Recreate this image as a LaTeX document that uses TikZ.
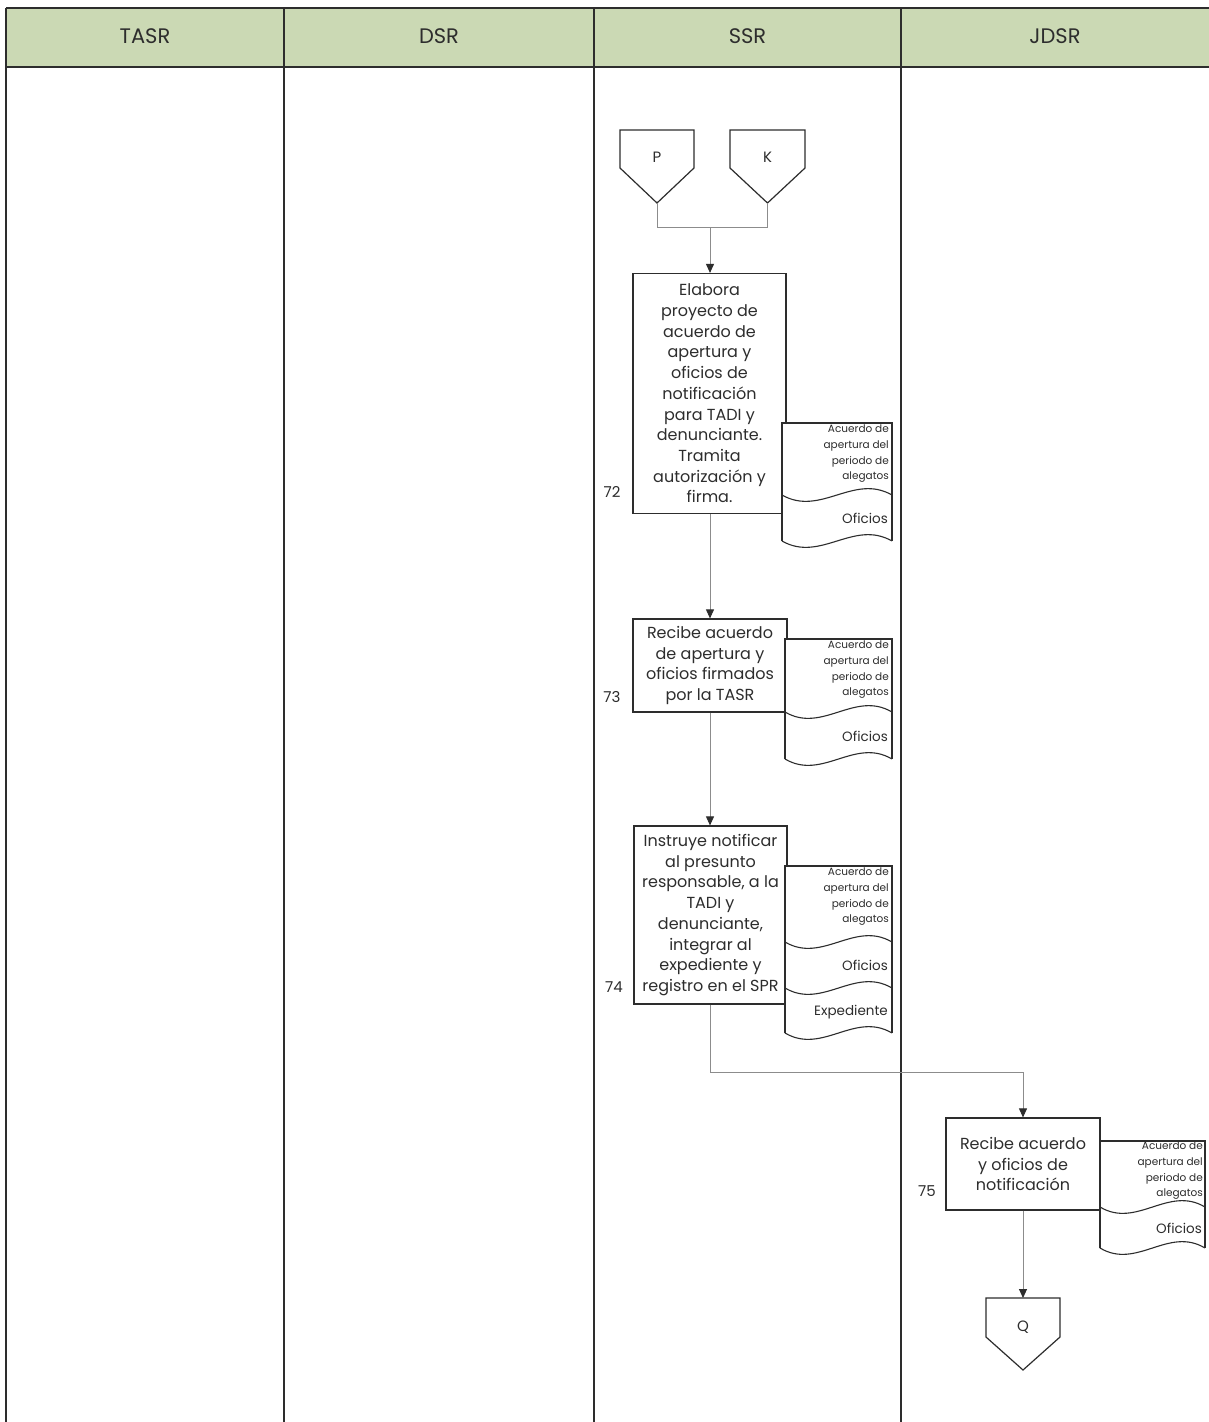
\documentclass[tikz,border=0pt]{standalone}
\usepackage{fontspec}
\setmainfont{Poppins}
\usetikzlibrary{arrows.meta}
\definecolor{hdr}{RGB}{203,217,180}
\definecolor{ink}{RGB}{45,45,45}
\definecolor{conn}{RGB}{140,140,140}
\tikzset{
  box/.style={draw=ink, line width=1.2pt, fill=white, align=center, inner sep=0pt,
    font=\fontsize{16}{20.7}\selectfont, text=ink},
  doctext/.style={font=\fontsize{10.5}{15.6}\selectfont, align=right, inner sep=0pt, text=ink},
  doclabel/.style={font=\fontsize{13.5}{15}\selectfont, inner sep=0pt, text=ink},
  num/.style={font=\fontsize{15}{18}\selectfont, text=ink},
  hdrtext/.style={font=\fontsize{21}{24}\selectfont, text=ink},
  lane/.style={draw=ink, line width=1.3pt},
  docline/.style={draw=ink, line width=1.1pt},
  conshape/.style={draw=ink, line width=1.2pt, fill=white, line join=miter},
  flowline/.style={draw=conn, line width=0.9pt},
  flow/.style={draw=conn, line width=0.9pt, -{Triangle[length=9pt,width=8pt,color=ink]}},
}
\newcommand\wave[3]{(#1,#3) .. controls ({#1+0.35*(#2-#1)},{#3+22}) and ({#1+0.65*(#2-#1)},{#3-22}) .. (#2,#3)}
\begin{document}
\begin{tikzpicture}[x=1pt,y=-1pt]
\useasboundingbox (0,0) rectangle (1209,1422);
\fill[white] (0,0) rectangle (1209,1422);
% header
\fill[hdr] (6,8) rectangle (1209,67);
\draw[lane] (6,8) -- (1209,8);
\draw[lane, line width=2pt] (6,67) -- (1209,67);
\foreach \x in {6,284,594,901} { \draw[lane] (\x,8) -- (\x,1422); }
\node[hdrtext] (h1) at (145,36) {TASR};
\node[hdrtext] (h2) at (439,36) {DSR};
\node[hdrtext] (h3) at (747.5,36) {SSR};
\node[hdrtext] (h4) at (1055,36) {JDSR};

% off-page connectors P and K
\draw[conshape] (620,130) -- (694,130) -- (694,168) -- (657,203) -- (620,168) -- cycle;
\node[num] (P) at (657,157) {P};
\coordinate (Pt) at (657,203);
\draw[conshape] (730,130) -- (805,130) -- (805,168) -- (767.5,203) -- (730,168) -- cycle;
\node[num] (K) at (767.5,157) {K};
\coordinate (Kt) at (767.5,203);
\coordinate (j) at (710,227);

% process boxes
\node[box, minimum width=153pt, minimum height=240pt] (b72) at (709.5,393.5)
  {Elabora\\proyecto de\\acuerdo de\\apertura y\\oficios de\\notificación\\para TADI y\\denunciante.\\Tramita\\autorización y\\firma.};
\node[box, minimum width=154pt, minimum height=93pt] (b73) at (710,665.5)
  {Recibe acuerdo\\de apertura y\\oficios firmados\\por la TASR};
\node[box, minimum width=153pt, minimum height=178pt] (b74) at (710.5,915)
  {Instruye notificar\\al presunto\\responsable, a la\\TADI y\\denunciante,\\integrar al\\expediente y\\registro en el SPR};
\node[box, minimum width=154pt, minimum height=92pt] (b75) at (1023,1164)
  {Recibe acuerdo\\y oficios de\\notificación};

\node[num] (n72) at (612,492) {72};
\node[num] (n73) at (612,697) {73};
\node[num] (n74) at (614,987) {74};
\node[num] (n75) at (927,1191) {75};

% documents 72
\draw[docline, fill=white] (782,541) -- (782,423) -- (892,423) -- (892,541);
\draw[docline] \wave{782}{892}{495};
\draw[docline] \wave{782}{892}{541};
\node[doctext, anchor=north east] (d72a) at (889,425) {Acuerdo de\\apertura del\\periodo de\\alegatos};
\node[doclabel, anchor=east] (d72b) at (888,518) {Oficios};

% documents 73
\draw[docline, fill=white] (785,759) -- (785,639) -- (892,639) -- (892,759);
\draw[docline] \wave{785}{892}{712};
\draw[docline] \wave{785}{892}{759};
\node[doctext, anchor=north east] (d73a) at (889,641) {Acuerdo de\\apertura del\\periodo de\\alegatos};
\node[doclabel, anchor=east] (d73b) at (888,736) {Oficios};

% documents 74
\draw[docline, fill=white] (785,1033) -- (785,866) -- (892,866) -- (892,1033);
\draw[docline] \wave{785}{892}{942};
\draw[docline] \wave{785}{892}{988};
\draw[docline] \wave{785}{892}{1033};
\node[doctext, anchor=north east] (d74a) at (889,868) {Acuerdo de\\apertura del\\periodo de\\alegatos};
\node[doclabel, anchor=east] (d74b) at (888,965) {Oficios};
\node[doclabel, anchor=east] (d74c) at (888,1012) {Expediente};

% documents 75
\draw[docline, fill=white] (1100,1248) -- (1100,1141) -- (1205,1141) -- (1205,1248);
\draw[docline] \wave{1100}{1205}{1207};
\draw[docline] \wave{1100}{1205}{1248};
\node[doctext, anchor=north east] (d75a) at (1203,1142) {Acuerdo de\\apertura del\\periodo de\\alegatos};
\node[doclabel, anchor=east] (d75b) at (1202,1228) {Oficios};

% Q connector
\draw[conshape] (986,1298) -- (1060,1298) -- (1060,1337) -- (1023,1370) -- (986,1337) -- cycle;
\node[num] (Q) at (1023,1327) {Q};
\coordinate (Qtop) at (1023,1298);

% connectors
\draw[flowline] (Pt) -- (Pt |- j) -- (Kt |- j) -- (Kt);
\draw[flow] (j) -- (b72.north -| j);
\draw[flow] (b72.south -| j) -- (b73.north -| j);
\draw[flow] (b73.south -| j) -- (b74.north -| j);
\draw[flow] (b74.south -| j) -- ++(0,68) -| (b75.north);
\draw[flow] (b75.south) -- (Qtop);
\end{tikzpicture}
\end{document}
